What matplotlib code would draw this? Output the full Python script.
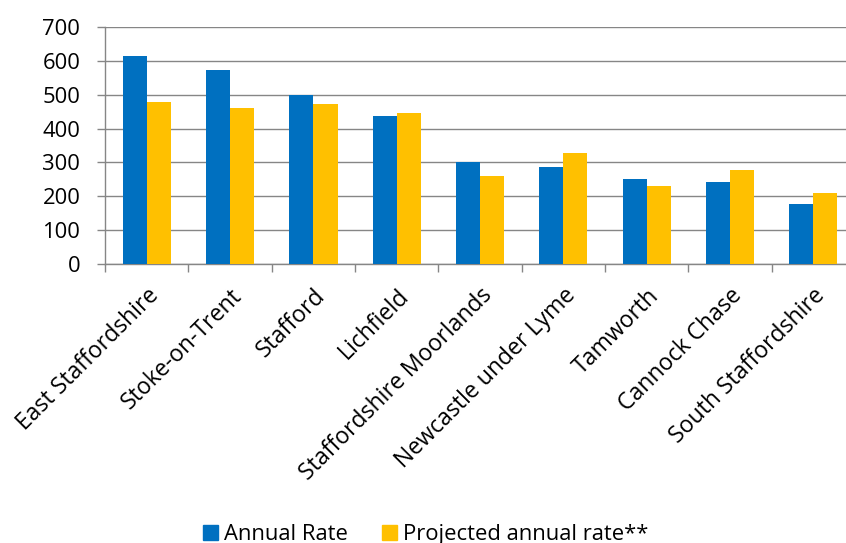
import numpy as np
import matplotlib.pyplot as plt
from matplotlib.patches import Patch

plt.rcParams['font.family'] = ['Open Sans', 'DejaVu Sans']

districts = ['East Staffordshire', 'Stoke-on-Trent', 'Stafford', 'Lichfield',
             'Staffordshire Moorlands', 'Newcastle under Lyme', 'Tamworth',
             'Cannock Chase', 'South Staffordshire']
annual_rate = [614, 571, 500, 437, 300, 287, 251, 242, 177]
projected_rate = [477, 461, 471, 447, 260, 327, 230, 278, 210]

blue = '#0070C0'
gold = '#FFC000'
grey = '#868686'

fig = plt.figure(figsize=(8.46, 5.43), dpi=100)
# plot area runs a little past the right edge of the canvas
ax = fig.add_axes([105/846, 278.7/543, 750/846, 237.6/543])

x = np.arange(len(districts))
w = 0.29
ax.bar(x - w, annual_rate, w, align='edge', color=blue, zorder=3)
ax.bar(x, projected_rate, w, align='edge', color=gold, zorder=3)

ax.set_xlim(-0.5, len(districts) - 0.5)
ax.set_ylim(0, 700)
ax.set_yticks(np.arange(0, 701, 100))
ax.yaxis.grid(True, color=grey, linewidth=1.0, zorder=0)
ax.set_axisbelow(True)

for side in ['top', 'right']:
    ax.spines[side].set_visible(False)
for side in ['left', 'bottom']:
    ax.spines[side].set_color(grey)
    ax.spines[side].set_linewidth(1.0)

ax.tick_params(axis='y', direction='out', length=5.8, width=1.0, color=grey,
               labelsize=15.8, pad=12)
ax.set_xticks(np.arange(-0.5, len(districts)), labels=[])
ax.tick_params(axis='x', which='major', direction='out', length=5.8, width=1.0, color=grey)
ax.set_xticks(x, labels=districts, minor=True)
ax.tick_params(axis='x', which='minor', length=0, labelsize=16.6, pad=14)
for lab in ax.get_xticklabels(minor=True):
    lab.set_rotation(45)
    lab.set_ha('right')
    lab.set_rotation_mode('anchor')

handles = [Patch(color=blue), Patch(color=gold)]
fig.legend(handles, ['Annual Rate', 'Projected annual rate**'], loc='center',
           bbox_to_anchor=(0.503, 0.015), ncol=2, frameon=False, fontsize=15.8,
           handlelength=0.7, handleheight=0.7, handletextpad=0.25,
           columnspacing=1.55, borderaxespad=0)

fig.savefig('out.png', dpi=100)
